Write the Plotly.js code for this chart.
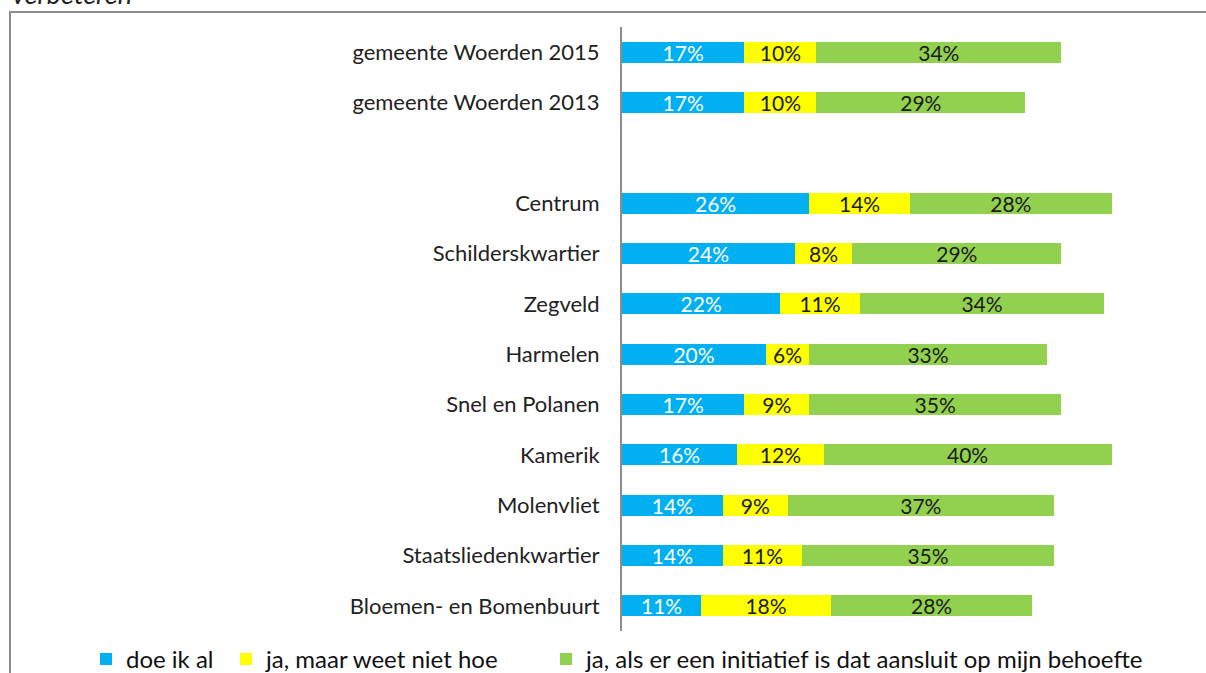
<!DOCTYPE html>
<html>
<head>
<meta charset="utf-8">
<script src="https://cdn.plot.ly/plotly-3.0.1.min.js"></script>
<style>
html,body{margin:0;padding:0;background:#fff;}
#chart{width:1206px;height:673px;}
</style>
</head>
<body>
<div id="chart"></div>
<script>
const categories = [
  "gemeente Woerden 2015",
  "gemeente Woerden 2013",
  " ",
  "Centrum",
  "Schilderskwartier",
  "Zegveld",
  "Harmelen",
  "Snel en Polanen",
  "Kamerik",
  "Molenvliet",
  "Staatsliedenkwartier",
  "Bloemen- en Bomenbuurt"
];
const seriesNames = [
  "doe ik al",
  "ja, maar weet niet hoe",
  "ja, als er een initiatief is dat aansluit op mijn behoefte"
];
const doeIkAl = [17, 17, null, 26, 24, 22, 20, 17, 16, 14, 14, 11];
const jaMaarWeetNietHoe = [10, 10, null, 14, 8, 11, 6, 9, 12, 9, 11, 18];
const jaAlsInitiatief = [34, 29, null, 28, 29, 34, 33, 35, 40, 37, 35, 28];
const colors = ["#00B0F0", "#FFFF00", "#92D050"];
const textColors = ["#ffffff", "#1a1a1a", "#1a1a1a"];

const FONT = "Lato, 'Open Sans', sans-serif";
const values = [doeIkAl, jaMaarWeetNietHoe, jaAlsInitiatief];
const legendIds = ["legend", "legend2", "legend3"];
const legendX = [-0.9306, -0.6875, -0.1319];

const traces = values.map((v, i) => ({
  type: "bar",
  orientation: "h",
  name: seriesNames[i],
  legend: legendIds[i],
  y: categories,
  x: v,
  marker: {color: colors[i]},
  text: v.map(d => d == null ? "" : d + "%"),
  textposition: "inside",
  insidetextanchor: "middle",
  constraintext: "none",
  textangle: 0,
  textfont: {family: FONT, size: 21, color: textColors[i]},
  hoverinfo: "skip"
}));

function legendCfg(x) {
  return {
    orientation: "h",
    x: x,
    xanchor: "left",
    y: -0.047,
    yanchor: "middle",
    bgcolor: "rgba(0,0,0,0)",
    font: {family: FONT, size: 24, color: "#111111"},
    itemclick: false,
    itemdoubleclick: false
  };
}

const layout = {
  width: 1206,
  height: 673,
  barmode: "stack",
  bargap: 0.58,
  paper_bgcolor: "#ffffff",
  plot_bgcolor: "#ffffff",
  margin: {l: 622, r: 8, t: 27, b: 42, autoexpand: false},
  font: {family: FONT, color: "#222222"},
  showlegend: true,
  legend: legendCfg(legendX[0]),
  legend2: legendCfg(legendX[1]),
  legend3: legendCfg(legendX[2]),
  xaxis: {
    range: [0, 80],
    showgrid: false,
    zeroline: false,
    showline: false,
    showticklabels: false,
    ticks: "",
    fixedrange: true
  },
  yaxis: {
    type: "category",
    categoryorder: "array",
    categoryarray: categories,
    autorange: "reversed",
    showgrid: false,
    zeroline: false,
    showline: true,
    linecolor: "#8c8c8c",
    linewidth: 2,
    ticks: "outside",
    ticklen: 16,
    tickcolor: "rgba(0,0,0,0)",
    tickfont: {family: FONT, size: 22, color: "#222222"},
    fixedrange: true
  },
  shapes: [{
    type: "rect",
    xref: "paper",
    yref: "paper",
    x0: -1.0625,
    x1: 1.2,
    y0: -0.2,
    y1: 1.025,
    line: {color: "#8c8c8c", width: 2},
    fillcolor: "rgba(0,0,0,0)",
    layer: "below"
  }],
  annotations: [{
    xref: "paper",
    yref: "paper",
    x: -1.0625,
    xanchor: "left",
    y: 1.0248,
    yanchor: "bottom",
    text: "<i>verbeteren</i>",
    showarrow: false,
    font: {family: FONT, size: 27, color: "#222222"}
  }]
};

Plotly.newPlot("chart", traces, layout, {displayModeBar: false, staticPlot: true});
</script>
</body>
</html>
